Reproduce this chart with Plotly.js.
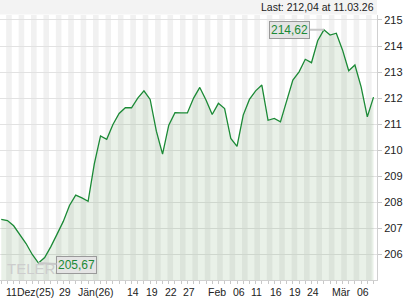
<!DOCTYPE html>
<html>
<head>
<meta charset="utf-8">
<script src="https://cdn.plot.ly/plotly-3.0.1.min.js"></script>
<style>html,body{margin:0;padding:0;background:#fff;}#chart{width:420px;height:300px;}</style>
</head>
<body>
<div id="chart"></div>
<script>
const dates = [
  '2025-12-11','2025-12-12','2025-12-15','2025-12-16','2025-12-17','2025-12-18','2025-12-19','2025-12-22','2025-12-23','2025-12-29','2025-12-30','2025-12-31',
  '2026-01-02','2026-01-05','2026-01-06','2026-01-07','2026-01-08','2026-01-09','2026-01-12','2026-01-13','2026-01-14','2026-01-15','2026-01-16','2026-01-19','2026-01-20','2026-01-21','2026-01-22','2026-01-23','2026-01-26','2026-01-27','2026-01-28','2026-01-29','2026-01-30',
  '2026-02-02','2026-02-03','2026-02-04','2026-02-05','2026-02-06','2026-02-09','2026-02-10','2026-02-11','2026-02-12','2026-02-13','2026-02-16','2026-02-17','2026-02-18','2026-02-19','2026-02-20','2026-02-23','2026-02-24','2026-02-25','2026-02-26','2026-02-27',
  '2026-03-02','2026-03-03','2026-03-04','2026-03-05','2026-03-06','2026-03-09','2026-03-10','2026-03-11'
];
const closes = [
  207.35, 207.30, 207.10, 206.75, 206.42, 206.00, 205.67, 205.88, 206.30, 206.78, 207.27, 207.88,
  208.28, 208.17, 208.04, 209.48, 210.55, 210.42, 210.99, 211.41, 211.63, 211.63, 212.00, 212.28, 211.95, 210.73, 209.85, 210.96, 211.44, 211.43, 211.43, 212.00, 212.41,
  211.93, 211.37, 211.80, 211.60, 210.45, 210.15, 211.35, 211.95, 212.28, 212.50, 211.15, 211.22, 211.09, 211.92, 212.69, 213.01, 213.49, 213.36, 214.20, 214.62,
  214.42, 214.49, 213.85, 213.05, 213.27, 212.43, 211.28, 212.04
];
const tickDates = ['2025-12-11','2025-12-29','2026-01-02','2026-01-14','2026-01-19','2026-01-22','2026-01-27','2026-02-02','2026-02-06','2026-02-11','2026-02-16','2026-02-19','2026-02-24','2026-03-02','2026-03-06'];
const tickLabels = ['11Dez(25)','29','Jän(26)','14','19','22','27','Feb','06','11','16','19','24','Mär','06'];
const yTicks = [206, 207, 208, 209, 210, 211, 212, 213, 214, 215];
const lastText = 'Last: 212,04 at 11.03.26';

const fmt = v => v.toFixed(2).replace('.', ',');
const idx = dates.map((d, i) => i);
const GREEN = '#1b8a36';
const FONT = 'Liberation Sans, Arial, sans-serif';

let iMax = 0, iMin = 0;
closes.forEach((v, i) => { if (v > closes[iMax]) iMax = i; if (v < closes[iMin]) iMin = i; });

const shapes = [];
// header band
shapes.push({type:'rect', xref:'paper', yref:'paper', x0:0, x1:1, y0:1.002, y1:1.06, fillcolor:'#f3f3f3', line:{width:0}, layer:'above'});
// day stripes
idx.forEach(i => {
  if (i % 2 === 1) {
    shapes.push({type:'rect', xref:'x', yref:'paper', x0:i-0.2, x1:i+0.7, y0:0, y1:1, fillcolor:'#f1f1f1', line:{width:0}, layer:'below'});
  }
});

const annotations = [];
annotations.push({x:0, xref:'paper', y:0, yref:'paper', xanchor:'left', yanchor:'bottom', xshift:5, yshift:1,
  showarrow:false, text:'TELERADER', font:{family:'Liberation Sans Narrow, Liberation Sans, sans-serif', size:15, color:'#cdcdcd'}});
tickDates.forEach((d, k) => {
  annotations.push({
    x: dates.indexOf(d), xref:'x', y:0, yref:'paper', xanchor:'left', yanchor:'top',
    xshift: k === 0 ? 3 : 0, yshift: -4, showarrow:false, text: tickLabels[k],
    font:{family:FONT, size:10.5, color:'#222'}
  });
});
annotations.push({x:1, xref:'paper', y:1, yref:'paper', xanchor:'right', yanchor:'middle', xshift:-1, yshift:8,
  showarrow:false, text:lastText, font:{family:FONT, size:10.5, color:'#222'}});
annotations.push({x:iMax, y:closes[iMax], xref:'x', yref:'y', text:fmt(closes[iMax]), showarrow:true,
  ax:-34, ay:0, arrowhead:0, arrowwidth:2, arrowcolor:'#c8c8c8', standoff:0,
  bgcolor:'#e4e4e4', bordercolor:'#9a9a9a', borderwidth:1, borderpad:1,
  font:{family:FONT, size:12, color:GREEN}});
annotations.push({x:iMin, y:closes[iMin], xref:'x', yref:'y', text:fmt(closes[iMin]), showarrow:true,
  ax:38, ay:2, arrowhead:0, arrowwidth:2, arrowcolor:'#c8c8c8', standoff:0,
  bgcolor:'#e4e4e4', bordercolor:'#9a9a9a', borderwidth:1, borderpad:1,
  font:{family:FONT, size:12, color:GREEN}});

const trace = {
  x: idx, y: closes, type:'scatter', mode:'lines',
  line:{color:GREEN, width:1.3},
  fill:'tozeroy', fillcolor:'rgba(40,120,30,0.10)',
  hoverinfo:'skip'
};

const layout = {
  width:420, height:300,
  margin:{l:0, r:43, t:15, b:20, pad:0},
  paper_bgcolor:'#ffffff', plot_bgcolor:'#ffffff',
  showlegend:false,
  xaxis:{range:[-0.2, 60.56], tickvals:idx, ticks:'outside', ticklen:3, tickcolor:'#c8c8c8',
    showticklabels:false, showgrid:false, zeroline:false, showline:true, linecolor:'#d0d0d0', fixedrange:true},
  yaxis:{side:'right', range:[205.02, 215.19], tickvals:yTicks, ticktext:yTicks.map(String),
    ticks:'outside', ticklen:4, tickcolor:'#c8c8c8', showline:true, linecolor:'#d0d0d0',
    showgrid:true, gridcolor:'#e2e2e2', gridwidth:1, zeroline:false,
    tickfont:{family:FONT, size:11, color:'#222'}, fixedrange:true},
  shapes: shapes,
  annotations: annotations
};

Plotly.newPlot('chart', [trace], layout, {staticPlot:true, displayModeBar:false});
</script>
</body>
</html>
